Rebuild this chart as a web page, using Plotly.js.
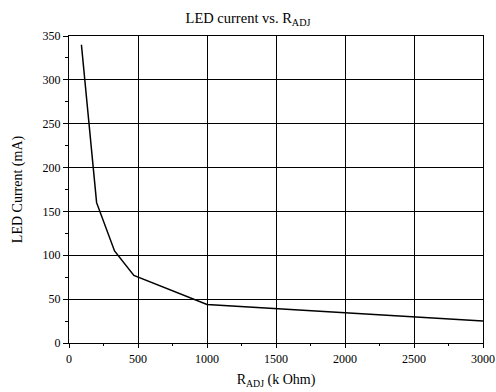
<!DOCTYPE html>
<html>
<head>
<meta charset="utf-8">
<script src="https://cdn.plot.ly/plotly-3.0.1.min.js"></script>
<style>html,body{margin:0;padding:0;background:#fff;}#chart{width:496px;height:392px;}</style>
</head>
<body>
<div id="chart"></div>
<script>
const rAdj = [90, 200, 330, 470, 1000, 3000];
const ledCurrent = [340, 160, 105, 77, 44, 25];
const xTicks = [0, 500, 1000, 1500, 2000, 2500, 3000];
const yTicks = [0, 50, 100, 150, 200, 250, 300, 350];

const fam = 'Liberation Serif, serif';
const font = {family: fam, color: '#000', size: 12};

Plotly.newPlot('chart', [{
  x: rAdj, y: ledCurrent, type: 'scatter', mode: 'lines',
  line: {color: '#000', width: 1.5}, hoverinfo: 'none'
}], {
  width: 496, height: 392,
  margin: {l: 69, r: 13, t: 36, b: 49},
  paper_bgcolor: '#fff', plot_bgcolor: '#fff',
  showlegend: false,
  font: font,
  title: {text: 'LED current vs. R<sub>ADJ</sub>', font: {family: fam, size: 14.5, color: '#000'}, x: 0.5, xanchor: 'center', y: 0.955, yanchor: 'middle'},
  xaxis: {
    range: [0, 3000], tickvals: xTicks, ticktext: xTicks.map(String),
    showgrid: true, gridcolor: '#000', gridwidth: 1,
    showline: true, linecolor: '#000', linewidth: 1.2, mirror: true,
    ticks: 'outside', ticklen: 4, tickcolor: '#000', tickwidth: 1,
    minor: {dtick: 250, ticks: 'outside', ticklen: 2, tickcolor: '#000', showgrid: false},
    zeroline: false,
    title: {text: 'R<sub>ADJ</sub> (k Ohm)', font: {family: fam, size: 14, color: '#000'}, standoff: 9},
    tickfont: {family: fam, color: '#000', size: 12}
  },
  yaxis: {
    range: [0, 350], tickvals: yTicks, ticktext: yTicks.map(String),
    showgrid: true, gridcolor: '#000', gridwidth: 1,
    showline: true, linecolor: '#000', linewidth: 1.2, mirror: true,
    ticks: 'outside', ticklen: 5, tickcolor: '#000', tickwidth: 1,
    minor: {dtick: 25, ticks: 'outside', ticklen: 3, tickcolor: '#000', showgrid: false},
    zeroline: false,
    title: {text: 'LED Current (mA)', font: {family: fam, size: 14, color: '#000'}, standoff: 16},
    tickfont: {family: fam, color: '#000', size: 12}
  }
}, {staticPlot: true});
</script>
</body>
</html>
